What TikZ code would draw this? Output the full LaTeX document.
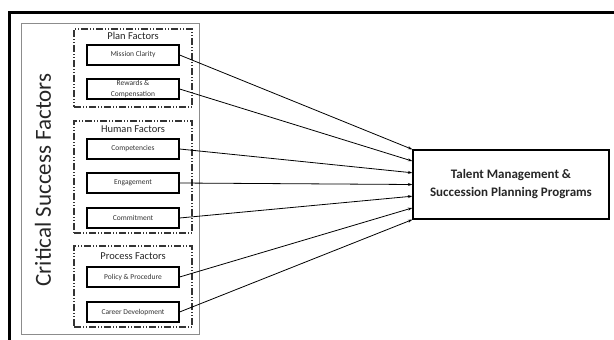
\documentclass[tikz,border=0pt]{standalone}
\usepackage{fontspec}
\setmainfont{Carlito}
\usetikzlibrary{arrows.meta,calc}
\begin{document}
\begin{tikzpicture}[x=1pt,y=-1pt,
  factorbox/.style={draw=black,line width=1.2pt,minimum width=92pt,minimum height=20pt,inner sep=0pt,font=\fontsize{7.5}{7.5}\selectfont,text=black!80,align=center},
  groupbox/.style={draw=black!80,line width=1.3pt,dash pattern=on 7pt off 2pt on 1pt off 2pt on 1pt off 2pt,minimum width=118pt,inner sep=0pt},
  grouplabel/.style={font=\fontsize{10.5}{10.5}\selectfont,text=black!85,inner sep=0pt},
  link/.style={line width=0.8pt,-{Stealth[length=4.5pt,width=3pt]}}]
\useasboundingbox (0,0) rectangle (614,340);
\begin{scope}
\clip (0,0) rectangle (614,340);
\draw[line width=3pt] (9,12) rectangle (640,370);
\end{scope}
\node[draw=black!45,line width=0.6pt,minimum width=178pt,minimum height=311pt,inner sep=0pt] (outer) at (110,178.5) {};
\node[rotate=90,font=\fontsize{23}{23}\selectfont,text=black!85,inner sep=0pt] (title) at (43,180) {Critical Success Factors};
% groups
\node[groupbox,minimum height=78pt] (plan) at (133,68) {};
\node[grouplabel] (planl) at (133,36) {Plan Factors};
\node[groupbox,minimum height=112pt] (human) at (133,177) {};
\node[grouplabel] (humanl) at (133,129) {Human Factors};
\node[groupbox,minimum height=81pt] (process) at (133,286.5) {};
\node[grouplabel] (processl) at (133,256) {Process Factors};
% factors
\node[factorbox] (mission) at (133,55) {Mission Clarity};
\node[factorbox,font=\fontsize{7.5}{11}\selectfont] (rewards) at (133,89) {Rewards \&\\Compensation};
\node[factorbox] (comp) at (133,149) {Competencies};
\node[factorbox] (eng) at (133,183) {Engagement};
\node[factorbox] (commit) at (133,218) {Commitment};
\node[factorbox] (policy) at (133,277) {Policy \& Procedure};
\node[factorbox] (career) at (133,312) {Career Development};
% target
\node[draw=black,line width=1.2pt,minimum width=196pt,minimum height=69pt,inner sep=0pt,align=center,font=\bfseries\fontsize{13}{18}\selectfont,text=black!85] (tgt) at (511,184.5) {Talent Management \&\\Succession Planning Programs};
% arrows
\foreach \s [count=\i from 0] in {mission,rewards,comp,eng,commit,policy,career}{
  \draw[link] (\s.east) -- ($(tgt.north west)!\i/6!(tgt.south west)$);
}
\end{tikzpicture}
\end{document}
